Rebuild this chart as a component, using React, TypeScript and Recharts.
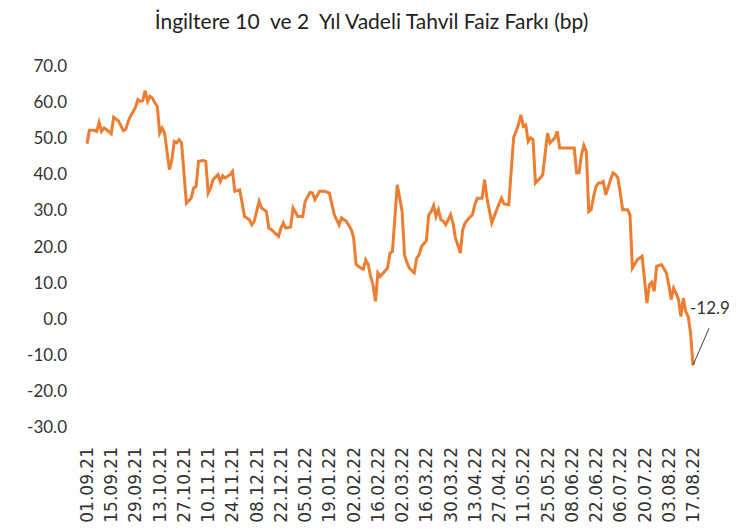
import { LineChart, Line, XAxis, YAxis, LabelList } from 'recharts'

// business-day index since 01.09.21 and the 10y-2y gilt spread (bp) at each vertex
const dayIndex = [
  0, 1, 3, 4, 5, 6, 7, 8, 10, 11, 13, 15, 16, 17, 18, 20, 21, 22, 23, 24, 25, 26, 27, 28, 29, 30,
  31, 32, 34, 35, 36, 37, 38, 39, 41, 43, 44, 45, 46, 48, 49, 50, 51, 52, 54, 55, 56, 57, 59, 60,
  61, 63, 65, 67, 68, 69, 71, 72, 74, 75, 76, 79, 80, 81, 82, 84, 85, 87, 89, 90, 92, 93, 94, 96,
  98, 100, 102, 104, 105, 106, 107, 109, 110, 111, 113, 114, 115, 116, 117, 118, 119, 120, 121,
  123, 124, 125, 126, 128, 130, 131, 132, 133, 134, 135, 136, 137, 138, 140, 141, 142, 143, 144,
  145, 146, 147, 148, 150, 151, 152, 154, 155, 156, 157, 159, 160, 161, 163, 164, 165, 167, 168,
  169, 171, 172, 174, 176, 178, 179, 180, 181, 182, 183, 184, 185, 187, 188, 190, 191, 193, 194,
  195, 201, 202, 203, 204, 205, 206, 207, 208, 209, 210, 211, 212, 213, 214, 216, 217, 218, 219,
  220, 221, 223, 224, 225, 227, 229, 230, 231, 232, 233, 234, 235, 237, 239, 240, 241, 242, 243,
  244, 245, 246, 247, 248, 249, 250,
]

const spread = [
  48.5, 52.2, 52.2, 51.9, 54.4, 51.9, 52.8, 52.4, 51.2, 55.8, 54.8, 52.1, 52.5, 54.7, 56.2, 58.5,
  60.7, 60.2, 60.4, 63.2, 60.2, 61.6, 61.1, 59.8, 58.8, 51.4, 52.8, 51.4, 41.3, 44.0, 49.1, 48.7,
  49.6, 48.7, 32.0, 33.4, 36.2, 36.6, 43.6, 43.8, 43.6, 34.8, 36.2, 38.5, 39.9, 38.0, 39.6, 39.0,
  39.9, 40.8, 35.3, 35.7, 28.3, 27.4, 26.0, 27.0, 32.5, 30.7, 29.7, 25.1, 24.7, 22.8, 25.1, 26.5,
  25.1, 25.4, 30.7, 28.3, 28.3, 32.5, 35.0, 34.8, 33.0, 35.3, 35.3, 34.8, 28.8, 26.0, 27.9, 27.4,
  27.0, 24.7, 22.4, 15.0, 14.0, 13.7, 16.3, 15.0, 11.7, 9.4, 4.8, 12.7, 11.7, 13.3, 14.0, 18.2,
  18.6, 37.1, 29.7, 17.7, 15.5, 14.0, 13.3, 12.7, 16.8, 17.7, 20.0, 21.6, 28.8, 29.7, 31.4, 28.3,
  30.2, 27.4, 27.0, 26.0, 28.8, 26.5, 22.4, 18.2, 24.7, 26.5, 27.4, 28.8, 31.6, 33.4, 33.4, 38.5,
  33.4, 26.5, 28.3, 30.2, 33.4, 31.8, 31.6, 50.1, 53.7, 56.5, 53.3, 53.7, 49.1, 50.1, 49.6, 37.6,
  39.0, 39.9, 51.4, 48.7, 50.1, 51.9, 47.3, 47.3, 40.4, 40.4, 45.4, 48.0, 46.3, 29.7, 30.2, 33.9,
  36.6, 37.6, 37.6, 38.0, 34.3, 38.5, 40.4, 39.9, 39.0, 34.8, 30.2, 30.2, 28.8, 14.0, 16.3, 17.3,
  10.8, 4.3, 9.4, 10.1, 7.6, 14.5, 15.0, 12.7, 9.4, 5.3, 8.5, 7.1, 5.3, 0.6, 5.7, 2.0, 0.6, -4.0,
  -12.9,
]

const dateLabels = [
  '01.09.21', '15.09.21', '29.09.21', '13.10.21', '27.10.21', '10.11.21', '24.11.21', '08.12.21',
  '22.12.21', '05.01.22', '19.01.22', '02.02.22', '16.02.22', '02.03.22', '16.03.22', '30.03.22',
  '13.04.22', '27.04.22', '11.05.22', '25.05.22', '08.06.22', '22.06.22', '06.07.22', '20.07.22',
  '03.08.22', '17.08.22',
]

const yTicks = [-30, -20, -10, 0, 10, 20, 30, 40, 50, 60, 70]

const data = dayIndex.map((d, i) => ({ d, v: spread[i] }))
const xTicks = dateLabels.map((_, i) => i * 10)
const lastIdx = data.length - 1

const DateTick = ({ x, y, payload }: any) => (
  <text
    x={x}
    y={y}
    transform={`rotate(-90 ${x} ${y})`}
    textAnchor="end"
    dominantBaseline="central"
    fontFamily="DejaVu Sans"
    fontSize={17}
    fill="#333"
  >
    {dateLabels[Math.round(payload.value / 10)]}
  </text>
)

const EndLabel = ({ x, y, value, index }: any) => {
  if (index !== lastIdx) return null
  return (
    <g>
      <line x1={x} y1={y} x2={x + 16} y2={y - 37} stroke="#404040" strokeWidth={1} />
      <text x={x - 3} y={y - 51} fontFamily="Lato" fontSize={17} fill="#333">
        {value.toFixed(1)}
      </text>
    </g>
  )
}

export default function App() {
  return (
    <div style={{ position: 'absolute', left: 0, top: 0, width: 743, height: 529, background: '#fff' }}>
      <div
        style={{
          position: 'absolute',
          top: 8,
          left: 0,
          width: 743,
          textAlign: 'center',
          fontFamily: 'Lato',
          fontSize: 21,
          color: '#222',
          whiteSpace: 'pre',
        }}
      >
        {'İngiltere 10  ve 2  Yıl Vadeli Tahvil Faiz Farkı (bp)'}
      </div>
      <LineChart width={743} height={529} data={data} margin={{ top: 66, right: 50, bottom: 0, left: 0 }}>
        <XAxis
          dataKey="d"
          type="number"
          domain={[0, 250]}
          ticks={xTicks}
          interval={0}
          height={102}
          axisLine={false}
          tickLine={false}
          tickSize={6}
          tickMargin={14}
          tick={<DateTick />}
        />
        <YAxis
          type="number"
          domain={[-30, 70]}
          ticks={yTicks}
          interval={0}
          width={87}
          axisLine={false}
          tickLine={false}
          tickSize={6}
          tickMargin={14}
          tickFormatter={(v: number) => v.toFixed(1)}
          tick={{ fontFamily: 'Lato', fontSize: 17, fill: '#333' }}
        />
        <Line
          type="linear"
          dataKey="v"
          stroke="#ED7D31"
          strokeWidth={3}
          dot={false}
          isAnimationActive={false}
        >
          <LabelList dataKey="v" content={<EndLabel />} />
        </Line>
      </LineChart>
    </div>
  )
}
